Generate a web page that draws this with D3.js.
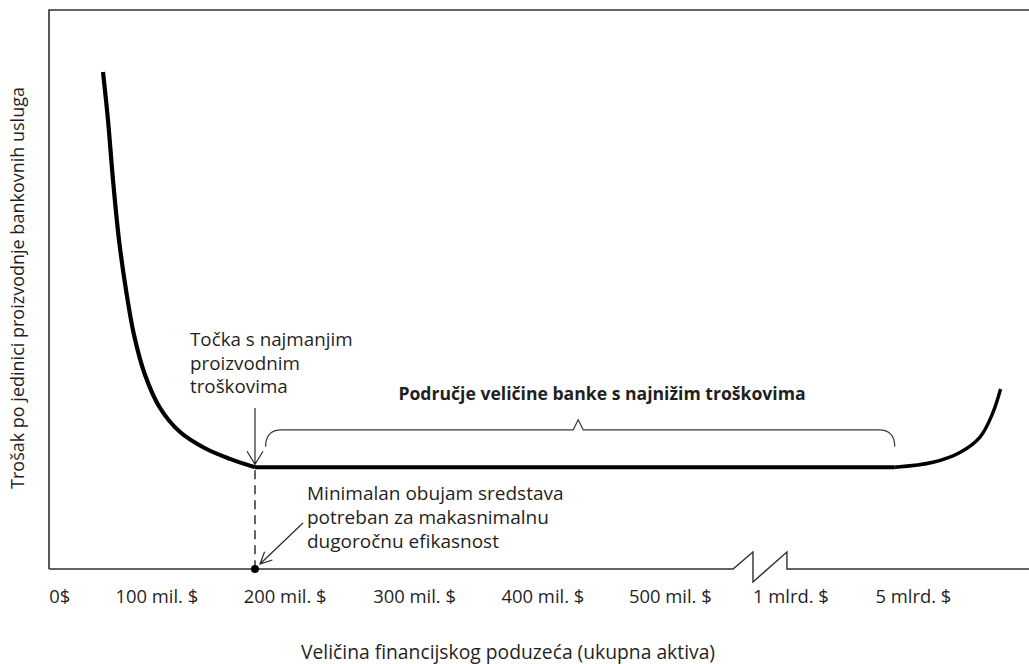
<!DOCTYPE html>
<html>
<head>
<meta charset="utf-8">
<script src="https://cdn.jsdelivr.net/npm/d3@7"></script>
<style>
  html, body { margin: 0; padding: 0; background: #ffffff; }
  svg { display: block; }
  text { font-family: "Open Sans", Lato, sans-serif; fill: #1f1f1f; }
</style>
</head>
<body>
<svg id="chart" width="1029" height="664"></svg>
<script>
// ---- data (abstract units: size 0..100 along x, cost 0..100 along y) ----
const tickLabels = ["0$", "100 mil. $", "200 mil. $", "300 mil. $", "400 mil. $", "500 mil. $", "1 mlrd. $", "5 mlrd. $"];
const tickValues = [1.1, 11.0, 24.1, 37.3, 50.4, 63.4, 75.7, 88.2];

const declineSize = [5.51, 6.02, 6.53, 7.14, 7.86, 8.67, 9.80, 11.33, 13.37, 15.92, 18.47, 21.02];
const declineCost = [88.9, 80.3, 69.6, 58.9, 49.9, 41.9, 34.7, 28.8, 24.5, 21.6, 19.7, 18.2];

const flatSize = [21.02, 86.3];
const flatCost = [18.2, 18.2];

const riseSize = [86.3, 90.2, 93.0, 95.0, 96.3, 97.1];
const riseCost = [18.2, 19.1, 20.9, 23.6, 27.9, 32.2];

const minPointSize = 21.02;
const minPointCost = 18.2;
const breakStart = 69.8, breakEnd = 75.3;
const braceStart = 22.1, braceEnd = 86.3, braceMid = 54.0, braceLevel = 24.9;

const yTitle = "Trošak po jedinici proizvodnje bankovnih usluga";
const xTitle = "Veličina financijskog poduzeća (ukupna aktiva)";
const rangeTitle = "Područje veličine banke s najnižim troškovima";
const note1 = ["Točka s najmanjim", "proizvodnim", "troškovima"];
const note2 = ["Minimalan obujam sredstava", "potreban za makasnimalnu", "dugoročnu efikasnost"];

// ---- layout ----
const svg = d3.select("#chart");
const pLeft = 49, pTop = 10, pBottom = 569, pRight = 1029;
const x = d3.scaleLinear().domain([0, 100]).range([pLeft, pRight]);
const y = d3.scaleLinear().domain([0, 100]).range([pBottom, pTop]);

const frameColor = "#303030";

// frame: top + left
svg.append("path")
  .attr("d", `M${pRight},${pTop}H${pLeft}V${pBottom}`)
  .attr("fill", "none").attr("stroke", frameColor).attr("stroke-width", 1.6);

// bottom axis with break
const b0 = x(breakStart), b1 = x(breakEnd);
const bm = b0 + (b1 - b0) * 0.37;
svg.append("path")
  .attr("d", `M${pLeft},${pBottom}H${b0}L${bm},${pBottom - 17}V${pBottom + 13}L${b1},${pBottom - 17}V${pBottom}H${pRight}`)
  .attr("fill", "none").attr("stroke", frameColor).attr("stroke-width", 1.4)
  .attr("stroke-linejoin", "miter");

// tick labels
svg.append("g").selectAll("text")
  .data(tickLabels)
  .join("text")
  .attr("x", (d, i) => x(tickValues[i]))
  .attr("y", 603)
  .attr("text-anchor", "middle")
  .attr("font-size", 18.4)
  .text(d => d);

// axis titles
svg.append("text")
  .attr("x", 508).attr("y", 659)
  .attr("text-anchor", "middle")
  .attr("font-size", 19.3)
  .text(xTitle);

svg.append("text")
  .attr("transform", `translate(24,${288}) rotate(-90)`)
  .attr("text-anchor", "middle")
  .attr("font-size", 18)
  .text(yTitle);

// cost curve
const curveLine = d3.line().x(d => x(d[0])).y(d => y(d[1])).curve(d3.curveCatmullRom.alpha(0.5));
const straight = d3.line().x(d => x(d[0])).y(d => y(d[1]));
svg.append("path")
  .datum(declineSize.map((s, i) => [s, declineCost[i]]))
  .attr("d", curveLine)
  .attr("fill", "none").attr("stroke", "#000").attr("stroke-width", 4.2);

svg.append("path")
  .datum(flatSize.map((s, i) => [s, flatCost[i]]))
  .attr("d", straight)
  .attr("fill", "none").attr("stroke", "#000").attr("stroke-width", 4.2);

svg.append("path")
  .datum(riseSize.map((s, i) => [s, riseCost[i]]))
  .attr("d", curveLine)
  .attr("fill", "none").attr("stroke", "#000").attr("stroke-width", 3.4);

// dashed drop line and dot
const mx = x(minPointSize), my = y(minPointCost);
svg.append("line")
  .attr("x1", mx).attr("x2", mx).attr("y1", my + 3).attr("y2", pBottom)
  .attr("stroke", "#111").attr("stroke-width", 1.3)
  .attr("stroke-dasharray", "9,6");
svg.append("circle").attr("cx", mx).attr("cy", pBottom).attr("r", 4).attr("fill", "#000");

// arrow 1 (vertical, pointing to min point)
const arrowColor = "#2a2a2a";
svg.append("path")
  .attr("d", `M${mx},${408}V${my - 3}M${mx - 8},${my - 16}L${mx},${my - 3}L${mx + 8},${my - 16}`)
  .attr("fill", "none").attr("stroke", arrowColor).attr("stroke-width", 1.2);

// arrow 2 (diagonal, pointing to the dot)
{
  const x1 = 303, y1 = 523, x2 = mx + 5, y2 = pBottom - 5;
  const ang = Math.atan2(y2 - y1, x2 - x1);
  const L = 13, spread = 0.45;
  const a1x = x2 - L * Math.cos(ang - spread), a1y = y2 - L * Math.sin(ang - spread);
  const a2x = x2 - L * Math.cos(ang + spread), a2y = y2 - L * Math.sin(ang + spread);
  svg.append("path")
    .attr("d", `M${x1},${y1}L${x2},${y2}M${a1x},${a1y}L${x2},${y2}L${a2x},${a2y}`)
    .attr("fill", "none").attr("stroke", arrowColor).attr("stroke-width", 1.2);
}

// notes
svg.append("g").selectAll("text").data(note1).join("text")
  .attr("x", 190).attr("y", (d, i) => 346 + i * 23.5)
  .attr("font-size", 18.8).text(d => d);

svg.append("g").selectAll("text").data(note2).join("text")
  .attr("x", 307).attr("y", (d, i) => 500 + i * 24)
  .attr("font-size", 19).text(d => d);

// range title
svg.append("text")
  .attr("x", 602).attr("y", 400)
  .attr("text-anchor", "middle")
  .attr("font-size", 17.6).attr("font-weight", "bold")
  .text(rangeTitle);

// brace
{
  const bx0 = x(braceStart), bx1 = x(braceEnd), bxm = x(braceMid), by = y(braceLevel);
  const r = 16;
  const d = `M${bx0},${by + 17}Q${bx0},${by} ${bx0 + r},${by}H${bxm - 5}L${bxm},${by - 10}L${bxm + 5},${by}H${bx1 - r}Q${bx1},${by} ${bx1},${by + 17}`;
  svg.append("path").attr("d", d)
    .attr("fill", "none").attr("stroke", "#3a3a3a").attr("stroke-width", 1.2);
}
</script>
</body>
</html>
